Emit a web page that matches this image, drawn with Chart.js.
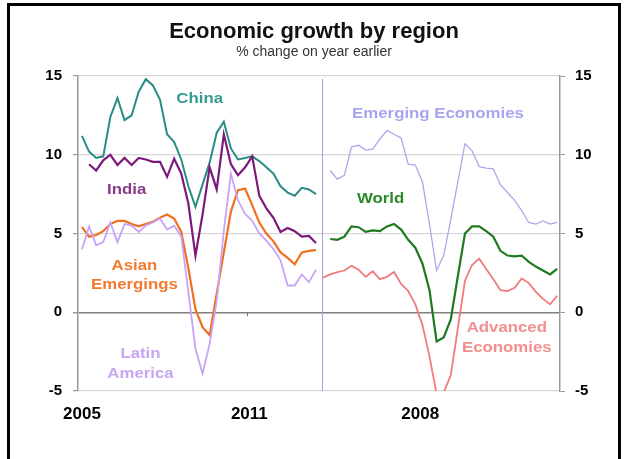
<!DOCTYPE html>
<html>
<head>
<meta charset="utf-8">
<script src="https://cdn.jsdelivr.net/npm/chart.js@4.4.1/dist/chart.umd.min.js"></script>
<style>
  html, body { margin: 0; padding: 0; background: #fff; }
  #wrap { position: relative; width: 628px; height: 459px; overflow: hidden; }
  #frame { position: absolute; left: 7px; top: 3px; width: 614px; height: 480px; border: 3px solid #000; box-sizing: border-box; }
  #box { position: absolute; left: 0; top: 0; width: 628px; height: 459px; }
</style>
</head>
<body>
<div id="wrap">
  <div id="frame"></div>
  <div id="box"><canvas id="chart"></canvas></div>
</div>
<script>
// quarterly, 2005Q1 .. 2013Q2 (34 points per series)
const china = [11.2, 10.2, 9.8, 9.9, 12.4, 13.6, 12.2, 12.5, 14.0, 14.8,
  14.4, 13.5, 11.3, 10.8, 9.7, 8.0, 6.7, 8.1, 9.5, 11.4,
  12.1, 10.4, 9.7, 9.8, 9.9, 9.6, 9.2, 8.8, 8.0, 7.6,
  7.4, 7.9, 7.8, 7.5];
const india = [null, 9.4, 9.0, 9.65, 10.0, 9.35, 9.8, 9.35, 9.8, 9.7,
  9.55, 9.55, 8.6, 9.75, 8.8, 6.9, 3.6, 6.2, 9.2, 7.8,
  11.3, 9.4, 8.7, 9.2, 9.9, 7.4, 6.6, 6.0, 5.1, 5.35,
  5.15, 4.8, 4.85, 4.4];
const asianEmergings = [5.4, 4.8, 4.9, 5.15, 5.6, 5.8, 5.8, 5.6, 5.45, 5.6,
  5.75, 6.0, 6.2, 5.95, 5.1, 2.8, 0.2, -0.95, -1.45, 1.2,
  3.8, 6.4, 7.75, 7.85, 6.8, 5.7, 5.0, 4.5, 3.8, 3.45,
  3.05, 3.8, 3.9, 3.95];
const latinAmerica = [4.0, 5.45, 4.25, 4.45, 5.7, 4.45, 5.6, 5.5, 5.1, 5.5,
  5.7, 5.95, 5.25, 5.5, 4.8, 1.3, -2.3, -3.9, -2.0, 0.7,
  5.2, 8.8, 7.1, 6.25, 5.8, 5.0, 4.55, 4.0, 3.3, 1.7,
  1.7, 2.4, 1.9, 2.7];

const emergingEconomies = [null, 9.0, 8.45, 8.7, 10.5, 10.6, 10.3, 10.35, 11.0, 11.55,
  11.3, 11.05, 9.4, 9.35, 8.3, 5.6, 2.65, 3.6, 5.9, 8.3,
  10.7, 10.25, 9.25, 9.15, 9.1, 8.1, 7.6, 7.1, 6.45, 5.7,
  5.6, 5.8, 5.6, 5.7];
const world = [null, 4.65, 4.6, 4.8, 5.45, 5.4, 5.1, 5.2, 5.15, 5.45,
  5.6, 5.25, 4.6, 4.1, 3.1, 1.4, -1.85, -1.6, -0.45, 2.3,
  5.0, 5.45, 5.45, 5.15, 4.8, 3.9, 3.6, 3.55, 3.6, 3.2,
  2.9, 2.65, 2.4, 2.75];
const advancedEconomies = [2.2, 2.4, 2.55, 2.65, 2.95, 2.7, 2.25, 2.6, 2.1, 2.25,
  2.55, 1.8, 1.35, 0.5, -0.8, -2.8, -5.2, -5.1, -4.0, -1.0,
  2.0, 3.0, 3.4, 2.75, 2.1, 1.4, 1.35, 1.55, 2.15, 1.85,
  1.3, 0.85, 0.5, 1.05];

const yearLabels = ['2005', '2011', '2008'];
const yearTickPos = [0, 23.6, 47.7];
const yTicks = [-5, 0, 5, 10, 15];

const RIGHT_START = 34; // right panel is drawn after the left one on the same x scale

function pts(values, offset) {
  return values.map((v, i) => ({ x: i + offset, y: v }));
}

function line(label, values, offset, color, width) {
  return {
    label: label,
    data: pts(values, offset),
    borderColor: color,
    borderWidth: width,
    pointRadius: 0,
    tension: 0,
    fill: false,
    spanGaps: false
  };
}

const notes = [
  { lines: ['China'], x: 16.6, y: 13.55, color: '#379b94' },
  { lines: ['India'], x: 6.3, y: 7.8, color: '#8a3a8a' },
  { lines: ['Asian', 'Emergings'], x: 7.4, y: 2.97, color: '#f27a2e' },
  { lines: ['Latin', 'America'], x: 8.25, y: -2.65, color: '#c6a6f2' },
  { lines: ['Emerging Economies'], x: 50.2, y: 12.6, color: '#a6a6ee' },
  { lines: ['World'], x: 42.1, y: 7.2, color: '#2a8a2a' },
  { lines: ['Advanced', 'Economies'], x: 59.9, y: -1.0, color: '#f28e8e' }
];

const panelExtras = {
  id: 'panelExtras',
  beforeDatasetsDraw(chart) {
    const { ctx, chartArea: a, scales: { x, y } } = chart;
    ctx.save();
    // divider between the two panels
    const xd = Math.round(x.getPixelForValue(RIGHT_START - 0.15)) + 0.5;
    ctx.strokeStyle = '#a3a3d0';
    ctx.lineWidth = 1;
    ctx.beginPath();
    ctx.moveTo(xd, a.top + 3);
    ctx.lineTo(xd, a.bottom);
    ctx.stroke();
    // small year ticks on the zero line
    const y0 = y.getPixelForValue(0);
    ctx.strokeStyle = '#777';
    yearTickPos.slice(1).forEach(v => {
      const px = Math.round(x.getPixelForValue(v - 0.3)) + 0.5;
      ctx.beginPath();
      ctx.moveTo(px, y0);
      ctx.lineTo(px, y0 + 4);
      ctx.stroke();
    });
    ctx.restore();
  },
  afterDatasetsDraw(chart) {
    const { ctx, scales: { x, y } } = chart;
    ctx.save();
    ctx.font = 'bold 15px "Liberation Sans", Arial, sans-serif';
    ctx.textAlign = 'center';
    ctx.textBaseline = 'middle';
    notes.forEach(n => {
      ctx.fillStyle = n.color;
      n.lines.forEach((t, k) => {
        ctx.save();
        ctx.translate(x.getPixelForValue(n.x), y.getPixelForValue(n.y) + k * 19.5);
        ctx.scale(1.12, 1);
        ctx.fillText(t, 0, 0);
        ctx.restore();
      });
    });
    ctx.restore();
  }
};

Chart.defaults.font.family = '"Liberation Sans", Arial, sans-serif';

new Chart(document.getElementById('chart'), {
  type: 'line',
  data: {
    datasets: [
      line('Latin America', latinAmerica, 0, '#c9a3f5', 1.8),
      line('Asian Emergings', asianEmergings, 0, '#f07020', 2.2),
      line('India', india, 0, '#7b1a7b', 2.2),
      line('China', china, 0, '#2b8c86', 2),
      line('Emerging Economies', emergingEconomies, RIGHT_START, '#a9a9ee', 1.3),
      line('Advanced Economies', advancedEconomies, RIGHT_START, '#f27b7b', 1.8),
      line('World', world, RIGHT_START, '#1f7a1f', 2.2)
    ]
  },
  options: {
    responsive: true,
    maintainAspectRatio: false,
    animation: false,
    layout: { padding: { top: 0, bottom: 36, left: 0, right: 0 } },
    plugins: {
      legend: { display: false },
      tooltip: { enabled: false },
      title: {
        display: true,
        text: 'Economic growth by region',
        color: '#111',
        font: { size: 22, weight: 'bold', lineHeight: 1 },
        padding: { top: 21, bottom: 0 }
      },
      subtitle: {
        display: true,
        text: '% change on year earlier',
        color: '#333',
        font: { size: 14, lineHeight: 1 },
        padding: { top: 2, bottom: 17 }
      }
    },
    scales: {
      x: {
        type: 'linear',
        min: -0.56,
        max: 67.4,
        grid: { display: false, drawTicks: false },
        border: { display: false },
        afterBuildTicks: s => { s.ticks = yearTickPos.map(v => ({ value: v })); },
        afterFit: s => { s.height = 32; },
        ticks: {
          autoSkip: false,
          maxRotation: 0,
          padding: 13,
          color: '#000',
          font: { size: 17, weight: 'bold' },
          callback: (v, i) => yearLabels[i]
        }
      },
      y: {
        position: 'left',
        min: -5,
        max: 15,
        afterBuildTicks: s => { s.ticks = yTicks.map(v => ({ value: v })); },
        afterFit: s => { s.width = 78; },
        ticks: { padding: 11, color: '#000', font: { size: 15, weight: 'bold' } },
        grid: {
          color: c => (c.tick && c.tick.value === 0 ? '#808080' : '#d6d6d6'),
          lineWidth: c => (c.tick && c.tick.value === 0 ? 1.4 : 1.2),
          tickLength: 5,
          tickColor: '#999'
        },
        border: { color: '#999', width: 1.5 }
      },
      y2: {
        position: 'right',
        min: -5,
        max: 15,
        afterBuildTicks: s => { s.ticks = yTicks.map(v => ({ value: v })); },
        afterFit: s => { s.width = 68; },
        ticks: { padding: 10, color: '#000', font: { size: 15, weight: 'bold' } },
        grid: { drawOnChartArea: false, tickLength: 5, color: '#999' },
        border: { color: '#999', width: 1.5 }
      }
    }
  },
  plugins: [panelExtras]
});
</script>
</body>
</html>
